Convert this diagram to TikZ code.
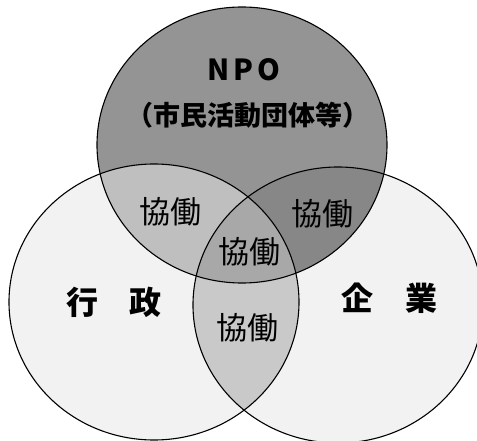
\documentclass[tikz,border=0pt]{standalone}
\usepackage{fontspec}
\newfontfamily\jp{Noto Sans CJK JP}

\begin{document}
\begin{tikzpicture}
  [x=1pt, y=-1pt,
   every node/.style={inner sep=0pt},
   oval/.style={x radius=145pt, y radius=138pt},
   rim/.style={line width=1.1pt},
   kyo/.style={font=\jp\fontsize{31}{31}\selectfont},
   big/.style={font=\jp\bfseries\fontsize{32}{32}\selectfont},
   title/.style={font=\jp\bfseries\fontsize{29}{29}\selectfont}]
 \useasboundingbox (0,0) rectangle (477,441);
 \clip (0,0) rectangle (477,441);
 \coordinate (cnpo) at (242,145);
 \coordinate (cgyo) at (154,302);
 \coordinate (ckig) at (338,305);
 % base fills
 \fill[black!5] (cgyo) ellipse [oval];
 \fill[black!5] (ckig) ellipse [oval];
 \fill[black!42] (cnpo) ellipse [oval];
 % overlaps with NPO
 \begin{scope}
   \clip (cnpo) ellipse [oval];
   \fill[black!25] (cgyo) ellipse [oval];
   \fill[black!47] (ckig) ellipse [oval];
 \end{scope}
 % gyosei and kigyo, and the middle
 \begin{scope}
   \clip (cgyo) ellipse [oval];
   \clip (ckig) ellipse [oval];
   \fill[black!21] (cnpo) ++(0,200) circle (300pt);
   \clip (cnpo) ellipse [oval];
   \fill[black!34] (cnpo) ellipse [oval];
 \end{scope}
 \foreach \c in {cnpo,cgyo,ckig}
   \draw[rim] (\c) ellipse [oval];
 % labels
 \node[title] (npo) at (244,70) {N\hspace{4pt}P\hspace{4pt}O};
 \node[title, font=\jp\bfseries\fontsize{27}{27}\selectfont] (shimin) at (248,115) {（市民活動団体等）};
 \node[big] (gyosei) at (114,302) {行　政};
 \node[big] (kigyo) at (389,298) {企　業};
 \foreach \p [count=\i] in {(170,212),(322,214),(249,252),(247,328)}
   \node[kyo] (kyo\i) at \p {協働};
\end{tikzpicture}
\end{document}
